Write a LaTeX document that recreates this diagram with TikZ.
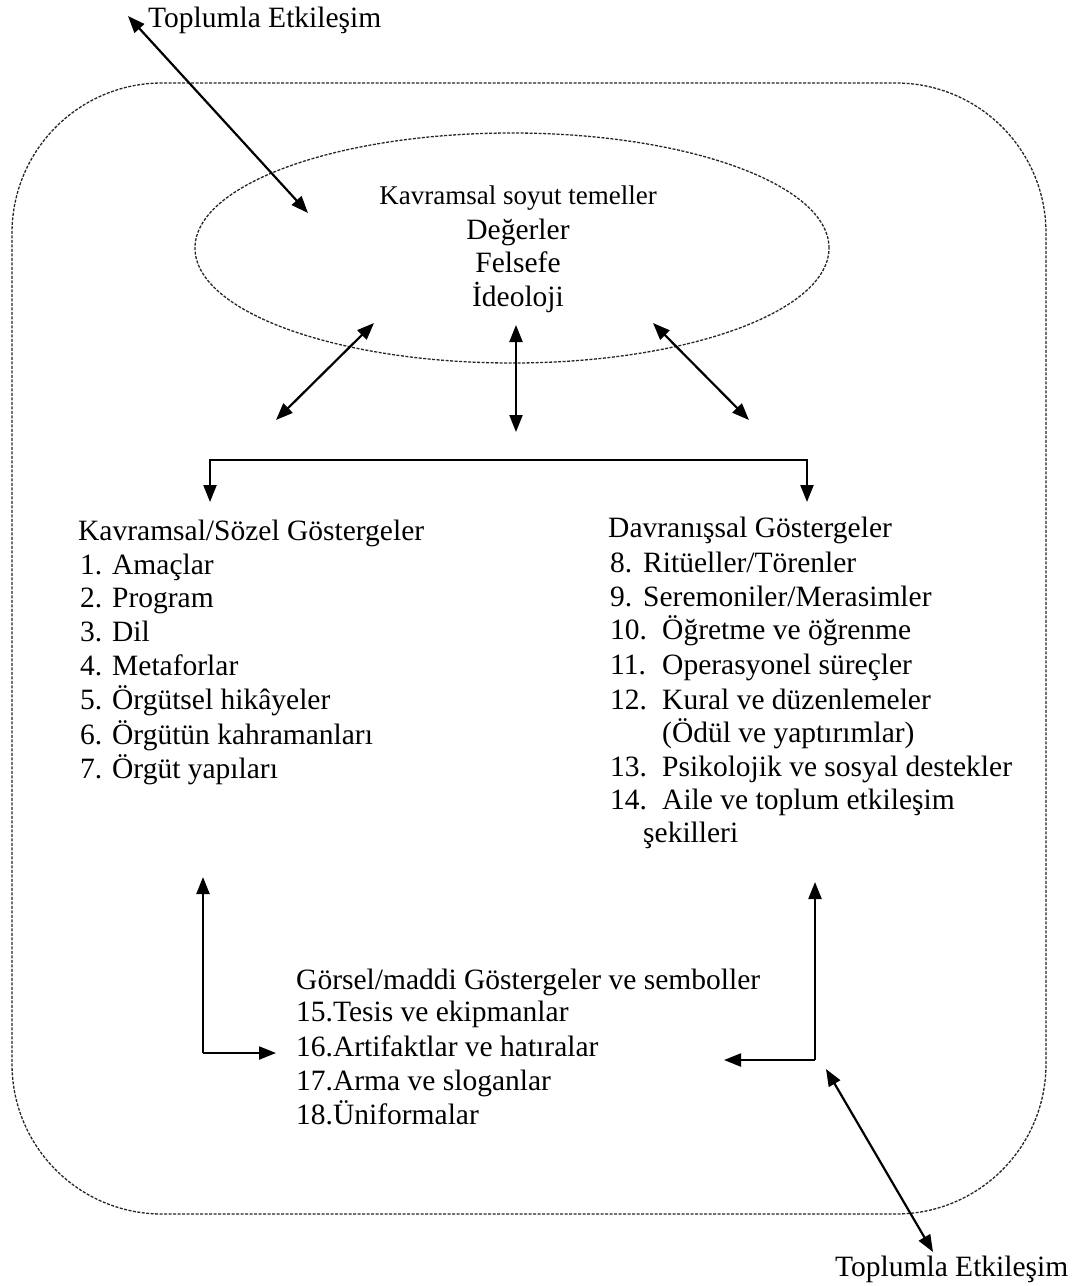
\documentclass[tikz,border=0pt]{standalone}
\usepackage{fontspec}
\setmainfont{Liberation Serif}
\usetikzlibrary{arrows.meta,shapes.geometric}
\begin{document}
\begin{tikzpicture}[x=1pt,y=-1pt,
  txt/.style={anchor=base west, inner sep=0pt, font=\fontsize{29.5}{34}\selectfont},
  ctxt/.style={anchor=base, inner sep=0pt, font=\fontsize{29.5}{34}\selectfont},
  border/.style={draw=black!85, line width=1.3pt, dash pattern=on 3pt off 1.5pt},
  conn/.style={line width=2.2pt, draw=black},
  tipA/.style={-{Triangle[length=17pt,width=13pt]}},
  tipB/.style={{Triangle[length=17pt,width=13pt]}-{Triangle[length=17pt,width=13pt]}}]
\useasboundingbox (0,0) rectangle (1078,1286);

% frame and ellipse
\node[border, rounded corners=150pt, minimum width=1034pt, minimum height=1131pt, inner sep=0pt] (frame) at (529,648.5) {};
\node[border, ellipse, minimum width=634pt, minimum height=230pt, inner sep=0pt] (ell) at (512,248) {};

% ellipse text
\node[ctxt, font=\fontsize{27}{32}\selectfont] (e0) at (518,204) {Kavramsal soyut temeller};
\node[ctxt] (e1) at (518,239) {Değerler};
\node[ctxt] (e2) at (518,272) {Felsefe};
\node[ctxt] (e3) at (518,306) {İdeoloji};

% outside labels
\node[txt] (topl) at (148,27) {Toplumla Etkileşim};
\node[txt] (botl) at (835,1276) {Toplumla Etkileşim};

% left list
\node[txt] (lh) at (78,540) {Kavramsal/Sözel Göstergeler};
\foreach \n/\t/\y in {1/Amaçlar/574,2/Program/607,3/Dil/641,4/Metaforlar/675,5/Örgütsel hikâyeler/709,6/Örgütün kahramanları/744,7/Örgüt yapıları/778}{
  \node[txt] (ln\n) at (80,\y) {\n.};
  \node[txt] (lt\n) at (112,\y) {\t};
}

% right list
\node[txt] (rh) at (608,537) {Davranışsal Göstergeler};
\node[txt] (rn8) at (610,572) {8.};
\node[txt] (rt8) at (643,572) {Ritüeller/Törenler};
\node[txt] (rn9) at (610,606) {9.};
\node[txt] (rt9) at (643,606) {Seremoniler/Merasimler};
\foreach \n/\t/\y in {10/Öğretme ve öğrenme/639,11/Operasyonel süreçler/674,12/Kural ve düzenlemeler/709,13/Psikolojik ve sosyal destekler/776,14/Aile ve toplum etkileşim/809}{
  \node[txt] (rn\n) at (610,\y) {\n.};
  \node[txt] (rt\n) at (662,\y) {\t};
}
\node[txt] (rt12b) at (662,742) {(Ödül ve yaptırımlar)};
\node[txt] (rt14b) at (643,842) {şekilleri};

% bottom list
\node[txt] (bh) at (296,989) {Görsel/maddi Göstergeler ve semboller};
\node[txt] (b15) at (296,1021) {15.Tesis ve ekipmanlar};
\node[txt] (b16) at (296,1056) {16.Artifaktlar ve hatıralar};
\node[txt] (b17) at (296,1090) {17.Arma ve sloganlar};
\node[txt] (b18) at (296,1124) {18.Üniformalar};

% coordinates for connectors
\coordinate (t1) at (128,16);
\coordinate (t2) at (308,213);
\coordinate (d1a) at (276,420);
\coordinate (d1b) at (374,323);
\coordinate (d2a) at (516,432);
\coordinate (d2b) at (516,325);
\coordinate (d3a) at (749,420);
\coordinate (d3b) at (653,323);
\coordinate (bL) at (210,460);
\coordinate (bR) at (807,460);
\coordinate (bLd) at (210,502);
\coordinate (bRd) at (807,502);
\coordinate (lu) at (203,877);
\coordinate (lc) at (203,1053);
\coordinate (lr) at (276,1053);
\coordinate (ru) at (815,882);
\coordinate (rc) at (815,1060);
\coordinate (rl) at (724,1060);
\coordinate (q1) at (826,1069);
\coordinate (q2) at (933,1252);

% connectors
\draw[conn, tipB] (t1) -- (t2);
\draw[conn, tipB] (d1a) -- (d1b);
\draw[conn, tipB] (d2a) -- (d2b);
\draw[conn, tipB] (d3a) -- (d3b);
\draw[conn, tipA] (bL) -- (bLd);
\draw[conn, line cap=rect] (bL) -- (bR);
\draw[conn, tipA] (bR) -- (bRd);
\draw[conn, tipA] (lc) -- (lu);
\draw[conn, tipA] (lc) -- (lr);
\draw[conn, tipA] (rc) -- (ru);
\draw[conn, tipA] (rc) -- (rl);
\draw[conn, tipB] (q1) -- (q2);
\end{tikzpicture}
\end{document}
